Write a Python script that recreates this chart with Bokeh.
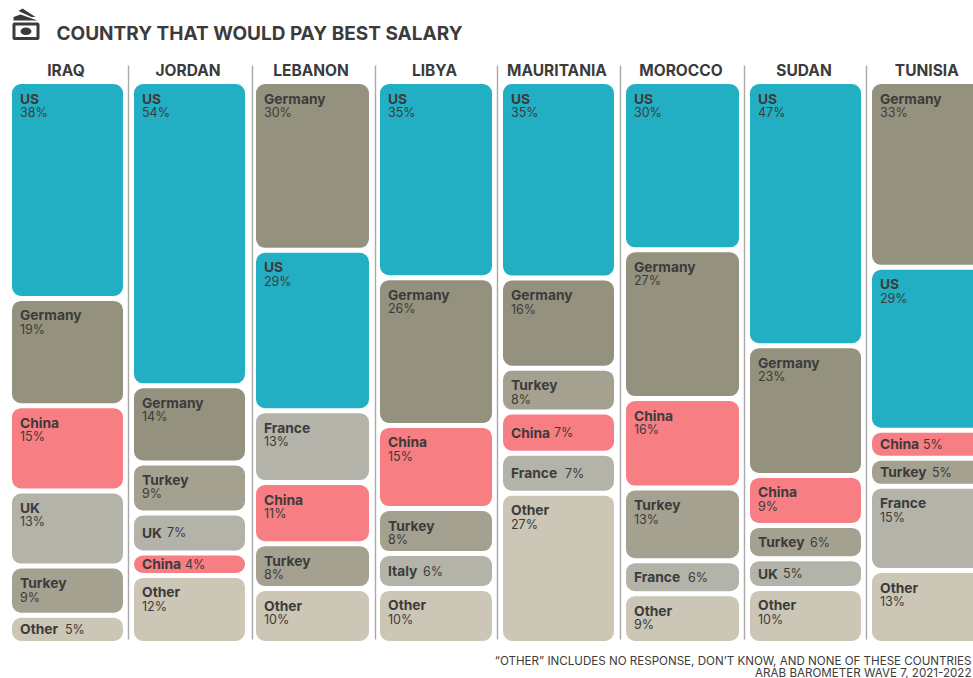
from bokeh.plotting import figure
from bokeh.models import ColumnDataSource, Range1d
from bokeh.core.properties import value
from bokeh.embed import file_html
from bokeh.resources import INLINE

TITLE = "COUNTRY THAT WOULD PAY BEST SALARY"
FOOT1 = "“OTHER” INCLUDES NO RESPONSE, DON’T KNOW, AND NONE OF THESE COUNTRIES"
FOOT2 = "ARAB BAROMETER WAVE 7, 2021-2022"

columns = ["IRAQ", "JORDAN", "LEBANON", "LIBYA", "MAURITANIA", "MOROCCO", "SUDAN", "TUNISIA"]

iraq_names = ["US", "Germany", "China", "UK", "Turkey", "Other"]
iraq_vals = [38.4, 19.0, 15.1, 13.3, 8.7, 5.0]
jordan_names = ["US", "Germany", "Turkey", "UK", "China", "Other"]
jordan_vals = [54.1, 13.7, 8.9, 7.1, 4.0, 12.1]
lebanon_names = ["Germany", "US", "France", "China", "Turkey", "Other"]
lebanon_vals = [30.1, 28.6, 12.8, 10.9, 8.0, 9.8]
libya_names = ["US", "Germany", "China", "Turkey", "Italy", "Other"]
libya_vals = [34.9, 26.3, 14.8, 8.0, 6.2, 9.8]
mauritania_names = ["US", "Germany", "Turkey", "China", "France", "Other"]
mauritania_vals = [34.9, 16.0, 7.8, 7.3, 7.1, 26.7]
morocco_names = ["US", "Germany", "China", "Turkey", "France", "Other"]
morocco_vals = [30.1, 26.6, 16.0, 13.0, 5.9, 8.9]
sudan_names = ["US", "Germany", "China", "Turkey", "UK", "Other"]
sudan_vals = [47.0, 23.1, 8.9, 5.9, 5.3, 9.8]
tunisia_names = ["Germany", "US", "China", "Turkey", "France", "Other"]
tunisia_vals = [33.1, 29.0, 5.0, 5.0, 15.0, 13.0]

all_names = [iraq_names, jordan_names, lebanon_names, libya_names,
             mauritania_names, morocco_names, sudan_names, tunisia_names]
all_vals = [iraq_vals, jordan_vals, lebanon_vals, libya_vals,
            mauritania_vals, morocco_vals, sudan_vals, tunisia_vals]

# ---- layout and style, separate from the data
W, H = 973, 678
PX_PER_PCT = 5.62
TOP_PX = 81
GAP_PX = 2.5
INLINE_BELOW = 7.5
col_left = [11.5, 133.5, 255.5, 379.5, 502.5, 625.5, 749.5, 871.5]
col_right = [122.5, 244.5, 368.5, 491.5, 613.5, 738.5, 860.5, 984]
sep_x = [128, 252, 375, 497, 620, 744, 866]
INK = "#3c3b3b"
FONT = "Inter"
colors = {"US": "#23afc3", "Germany": "#94927f", "China": "#f77e83", "UK": "#b3b3a9",
          "France": "#b3b3a9", "Italy": "#b3b3a9", "Turkey": "#a4a190", "Other": "#cbc6b5"}
inline_gap = {"China": 43, "Turkey": 52, "UK": 25, "Other": 45, "France": 54, "Italy": 35}


def yv(px):
    return 100 - (px - TOP_PX) / PX_PER_PCT


p = figure(width=W, height=H, output_backend="svg", toolbar_location=None,
           x_range=Range1d(0, W), y_range=Range1d(yv(H), yv(0)),
           min_border=0, outline_line_color=None, background_fill_color="white")
p.xaxis.visible = False
p.yaxis.visible = False
p.xgrid.visible = False
p.ygrid.visible = False

rects = dict(left=[], right=[], top=[], bottom=[], color=[])
stacked = dict(x=[], y=[], name=[], pct=[])
inline = dict(x=[], y=[], name=[], pct=[], px=[])
inset = GAP_PX / PX_PER_PCT
for left, right, names, vals in zip(col_left, col_right, all_names, all_vals):
    total = sum(vals)
    cur = 100.0
    for n, v in zip(names, vals):
        share = v / total * 100
        top, bot = cur - inset, cur - share + inset
        rects["left"].append(left); rects["right"].append(right)
        rects["top"].append(top); rects["bottom"].append(bot)
        rects["color"].append(colors[n])
        if v < INLINE_BELOW:
            inline["x"].append(left + 8); inline["y"].append((top + bot) / 2)
            inline["name"].append(n); inline["pct"].append(f"{round(v)}%")
            inline["px"].append(left + 8 + inline_gap[n])
        else:
            stacked["x"].append(left + 8); stacked["y"].append(top)
            stacked["name"].append(n); stacked["pct"].append(f"{round(v)}%")
        cur -= share

p.quad(left="left", right="right", top="top", bottom="bottom", fill_color="color",
       line_color=None, border_radius=9, source=ColumnDataSource(rects))

p.segment(x0=sep_x, x1=sep_x, y0=[yv(65)] * len(sep_x), y1=[yv(639)] * len(sep_x),
          line_color="#a9a9a9", line_width=1.4)

name_kw = dict(text_font=value(FONT), text_font_style="bold", text_font_size="13.8px",
               text_color=INK, text_baseline="middle", text_align="left")
pct_kw = dict(text_font=value(FONT), text_font_size="12.5px", text_color=INK,
              text_baseline="middle", text_align="left")
s = ColumnDataSource(stacked)
p.text(x="x", y="y", text="name", y_offset=14.5, source=s, **name_kw)
p.text(x="x", y="y", text="pct", y_offset=28.5, source=s, **pct_kw)
i = ColumnDataSource(inline)
p.text(x="x", y="y", text="name", source=i, **name_kw)
p.text(x="px", y="y", text="pct", source=i, **pct_kw)

# column headers
p.text(x=[(l + r) / 2 - 1.5 for l, r in zip(col_left, col_right)], y=[yv(70)] * len(columns), text=columns,
       text_font=value(FONT), text_font_style="bold", text_font_size="15.5px", text_color=INK,
       text_align="center", text_baseline="middle")

# title and footer
p.text(x=[56], y=[yv(32.5)], text=[TITLE], text_font=value(FONT), text_font_style="bold",
       text_font_size="19px", text_color=INK, text_align="left", text_baseline="middle")
p.text(x=[971], y=[yv(660)], text=[FOOT1], text_font=value(FONT), text_font_size="11.6px",
       text_color=INK, text_align="right", text_baseline="middle")
p.text(x=[971], y=[yv(672)], text=[FOOT2], text_font=value(FONT), text_font_size="11.6px",
       text_color=INK, text_align="right", text_baseline="middle")

# banknote icon
p.quad(left=[12], right=[39], top=[yv(22)], bottom=[yv(39.5)], fill_color=INK, line_color=None, border_radius=2)
p.quad(left=[15], right=[36], top=[yv(25)], bottom=[yv(36.5)], fill_color="white", line_color=None)
p.ellipse(x=[25.5], y=[yv(30.8)], width=11, height=7.5 / PX_PER_PCT, fill_color=INK, line_color=None)
p.patches(xs=[[13, 13, 20, 37], [18, 22, 35, 31]],
          ys=[[yv(q) for q in (20, 16.5, 14, 20)], [yv(q) for q in (10.5, 8, 16.5, 16.5)]],
          fill_color=INK, line_color=None)

open("out.html", "w").write(file_html(p, INLINE))
